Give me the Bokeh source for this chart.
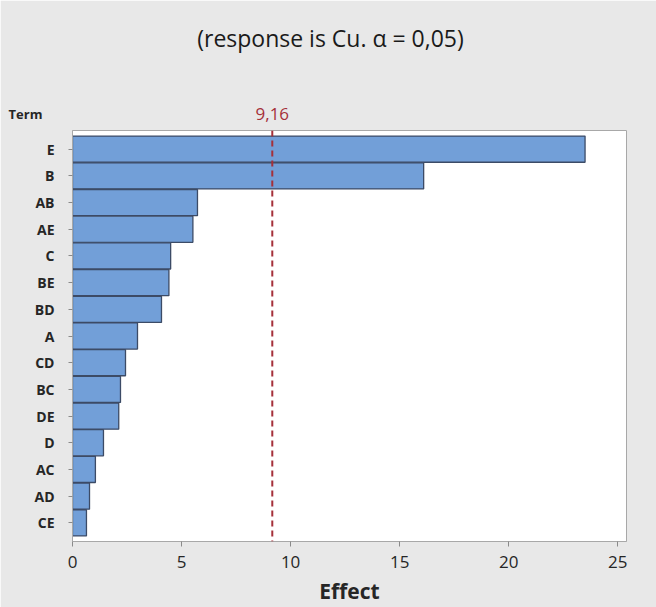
from bokeh.plotting import figure
from bokeh.models import FactorRange, Range1d, Span, Label
from bokeh.embed import file_html
from bokeh.resources import INLINE

# Pareto chart of standardized effects, largest on top
terms = ["E", "B", "AB", "AE", "C", "BE", "BD", "A", "CD", "BC", "DE", "D", "AC", "AD", "CE"]
effects = [23.5, 16.1, 5.73, 5.52, 4.5, 4.42, 4.08, 2.98, 2.43, 2.2, 2.12, 1.42, 1.05, 0.78, 0.64]
critical_value = 9.16
x_ticks = [0, 5, 10, 15, 20, 25]

title_text = "(response is Cu. \u03b1 = 0,05)"
font = "Open Sans"

pad = 0.2
p = figure(
    width=656, height=607,
    y_range=FactorRange(factors=terms[::-1], range_padding=pad, range_padding_units="absolute"),
    x_range=Range1d(0, 25.4),
    output_backend="svg", toolbar_location=None,
    min_border_left=72, min_border_right=30, min_border_top=130, min_border_bottom=64,
)
p.background_fill_color = "white"
p.border_fill_color = "#e8e8e8"
p.outline_line_color = "#a8a8a8"
p.outline_line_width = 1
p.grid.visible = False

p.hbar(y=terms, right=effects, left=0, height=0.98,
       fill_color="#729fd8", line_color="#3c4b66", line_width=1.3)

p.add_layout(Span(location=critical_value, dimension="height",
                  line_color="#a5303a", line_dash="6 4", line_width=2))

# x axis
p.xaxis.ticker = x_ticks
p.xaxis.axis_label = "Effect"
p.xaxis.axis_label_text_font = font
p.xaxis.axis_label_text_font_style = "bold"
p.xaxis.axis_label_text_font_size = "21px"
p.xaxis.axis_label_text_color = "#262626"
p.xaxis.axis_label_standoff = 6
p.xaxis.major_label_text_font = font
p.xaxis.major_label_text_font_size = "17px"
p.xaxis.major_label_text_color = "#262626"
p.xaxis.major_label_standoff = 9
p.xaxis.minor_tick_line_color = None
p.xaxis.axis_line_color = "#a8a8a8"
p.xaxis.major_tick_line_color = "#8a8a8a"
p.xaxis.major_tick_out = 5
p.xaxis.major_tick_in = 0

# y axis
p.yaxis.major_label_text_font = font
p.yaxis.major_label_text_font_style = "bold"
p.yaxis.major_label_text_font_size = "14px"
p.yaxis.major_label_text_color = "#262626"
p.yaxis.axis_line_color = "#a8a8a8"
p.yaxis.major_tick_line_color = "#8a8a8a"
p.yaxis.major_tick_out = 4
p.yaxis.major_tick_in = 0
p.yaxis.major_label_standoff = 14

top = len(terms) + pad
mid_x = 12.7

p.add_layout(Label(x=mid_x, y=top, x_offset=-19, y_offset=93, text=title_text,
                   text_font=font, text_font_size="23px", text_color="#1a1a1a",
                   text_align="center", text_baseline="middle"), "above")
p.add_layout(Label(x=0, y=top, x_offset=-47, y_offset=17, text="Term",
                   text_font=font, text_font_style="bold", text_font_size="13px",
                   text_color="#262626", text_align="center", text_baseline="middle"), "above")
p.add_layout(Label(x=critical_value, y=top, y_offset=17, text="9,16",
                   text_font=font, text_font_size="17px", text_color="#a5303a",
                   text_align="center", text_baseline="middle"), "above")

open("out.html", "w").write(file_html(p, INLINE))
